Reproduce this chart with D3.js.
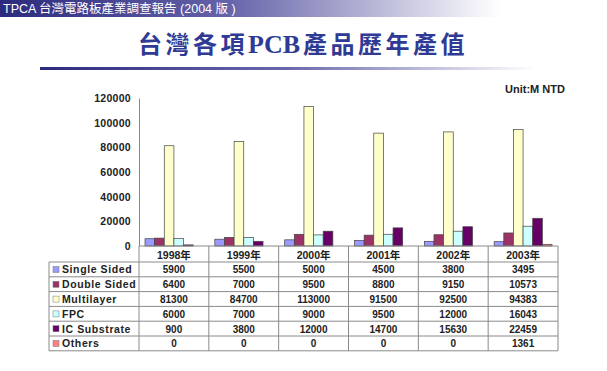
<!DOCTYPE html>
<html>
<head>
<meta charset="utf-8">
<script src="https://cdn.jsdelivr.net/npm/d3@7"></script>
<style>
  body { margin: 0; background: #fff; }
  svg { display: block; }
</style>
</head>
<body>
<svg id="chart" width="607" height="371"></svg>
<script>
var years = ["1998年", "1999年", "2000年", "2001年", "2002年", "2003年"];
var seriesNames = ["Single Sided", "Double Sided", "Multilayer", "FPC", "IC Substrate", "Others"];
var singleSided = [5900, 5500, 5000, 4500, 3800, 3495];
var doubleSided = [6400, 7000, 9500, 8800, 9150, 10573];
var multilayer = [81300, 84700, 113000, 91500, 92500, 94383];
var fpc = [6000, 7000, 9000, 9500, 12000, 16043];
var icSubstrate = [900, 3800, 12000, 14700, 15630, 22459];
var others = [0, 0, 0, 0, 0, 1361];
var yTicks = [0, 20000, 40000, 60000, 80000, 100000, 120000];

var seriesValues = [singleSided, doubleSided, multilayer, fpc, icSubstrate, others];
var colors = ["#9999ff", "#993366", "#ffffcc", "#ccffff", "#660066", "#ff8080"];

function init() {
    var svg = d3.select("#chart");
    var defs = svg.append("defs");

    var g1 = defs.append("linearGradient").attr("id", "hdr").attr("x1", "0").attr("x2", "1");
    g1.append("stop").attr("offset", "0").attr("stop-color", "#2c2a7c");
    g1.append("stop").attr("offset", "0.45").attr("stop-color", "#6462a8");
    g1.append("stop").attr("offset", "1").attr("stop-color", "#ffffff");

    var g2 = defs.append("linearGradient").attr("id", "uline").attr("x1", "0").attr("x2", "1");
    g2.append("stop").attr("offset", "0").attr("stop-color", "#2c2a7c");
    g2.append("stop").attr("offset", "0.5").attr("stop-color", "#6a68ac");
    g2.append("stop").attr("offset", "1").attr("stop-color", "#ffffff");

    // header band
    svg.append("rect").attr("x", 0).attr("y", 0).attr("width", 500).attr("height", 17).attr("fill", "url(#hdr)");
    svg.append("text")
        .attr("x", 3).attr("y", 13)
        .attr("fill", "#ffffff")
        .style("font-family", "'Liberation Sans', 'Noto Sans CJK TC', sans-serif")
        .style("font-size", "12.5px")
        .text("TPCA 台灣電路板產業調查報告 (2004 版 )");

    // title, CJK spaced out, PCB tight
    var title = svg.append("text")
        .attr("x", 303).attr("y", 53)
        .attr("text-anchor", "middle")
        .attr("fill", "#2f3a94")
        .style("font-family", "'Liberation Serif', 'Noto Sans CJK TC', serif")
        .style("font-weight", "bold")
        .style("font-size", "24px");
    title.append("tspan").style("letter-spacing", "3.5px").text("台灣各項");
    title.append("tspan").style("font-size", "26px").style("letter-spacing", "0px").text("PCB");
    title.append("tspan").attr("dx", 3).style("letter-spacing", "3.5px").text("產品歷年產值");

    svg.append("rect").attr("x", 40).attr("y", 67).attr("width", 495).attr("height", 3).attr("fill", "url(#uline)");

    // chart area
    var left = 139, right = 558, topY = 98, base = 246;

    var x0 = d3.scaleBand().domain(years).range([left, right]).padding(0);
    var x1 = d3.scaleBand().domain(seriesNames).range([6, x0.bandwidth() - 6]).padding(0);
    var y = d3.scaleLinear().domain([0, 120000]).range([base, topY]);

    svg.append("text")
        .attr("x", 505).attr("y", 93)
        .style("font-family", "'Liberation Sans', Arial, sans-serif")
        .style("font-weight", "bold")
        .style("font-size", "11px")
        .attr("fill", "#222")
        .text("Unit:M NTD");

    var yAxis = svg.append("g")
        .attr("transform", "translate(" + left + ",0)")
        .call(d3.axisLeft(y).tickValues(yTicks).tickSize(0).tickPadding(8).tickFormat(d3.format("d")));
    yAxis.select(".domain").attr("stroke", "#888");
    yAxis.selectAll("text")
        .style("font-family", "'Liberation Sans', Arial, sans-serif")
        .style("font-weight", "bold")
        .style("font-size", "10.5px")
        .style("letter-spacing", "0.3px")
        .attr("fill", "#222");

    var groups = svg.selectAll(".yr")
        .data(years)
        .enter().append("g")
        .attr("class", "yr")
        .attr("transform", function(d) { return "translate(" + x0(d) + ",0)"; });

    groups.selectAll("rect")
        .data(function(d, i) {
            return seriesNames.map(function(s, j) { return {name: s, value: seriesValues[j][i], c: colors[j]}; });
        })
        .enter().append("rect")
        .attr("x", function(d) { return x1(d.name); })
        .attr("width", x1.bandwidth())
        .attr("y", function(d) { return y(d.value); })
        .attr("height", function(d) { return base - y(d.value); })
        .attr("fill", function(d) { return d.c; })
        .attr("stroke", function(d) { return d.value > 0 ? "#444" : "none"; })
        .attr("stroke-width", 0.7);

    // data table
    var legLeft = 49, headH = 16, rowH = 14.8;
    var tableBottom = base + headH + rowH * seriesNames.length;
    var lineColor = "#8a8a8a";
    var tbl = svg.append("g");

    tbl.append("line").attr("x1", left).attr("x2", right).attr("y1", base).attr("y2", base).attr("stroke", lineColor);
    seriesNames.forEach(function(s, j) {
        var yy = base + headH + rowH * j;
        tbl.append("line").attr("x1", legLeft).attr("x2", right).attr("y1", yy).attr("y2", yy).attr("stroke", lineColor);
    });
    tbl.append("line").attr("x1", legLeft).attr("x2", right).attr("y1", tableBottom).attr("y2", tableBottom).attr("stroke", lineColor);
    tbl.append("line").attr("x1", legLeft).attr("x2", legLeft).attr("y1", base + headH).attr("y2", tableBottom).attr("stroke", lineColor);
    years.forEach(function(yr) {
        tbl.append("line").attr("x1", x0(yr)).attr("x2", x0(yr)).attr("y1", base).attr("y2", tableBottom).attr("stroke", lineColor);
    });
    tbl.append("line").attr("x1", right).attr("x2", right).attr("y1", base).attr("y2", tableBottom).attr("stroke", lineColor);

    var txtStyle = function(sel, size) {
        sel.style("font-family", "'Liberation Sans', Arial, 'Noto Sans CJK TC', sans-serif")
           .style("font-weight", "bold")
           .style("font-size", size)
           .attr("fill", "#222");
    };

    years.forEach(function(yr) {
        tbl.append("text")
            .attr("x", x0(yr) + x0.bandwidth() / 2)
            .attr("y", base + headH - 3.5)
            .attr("text-anchor", "middle")
            .call(txtStyle, "10.5px")
            .text(yr);
    });

    seriesNames.forEach(function(s, j) {
        var yy = base + headH + rowH * j;
        tbl.append("rect")
            .attr("x", legLeft + 4).attr("y", yy + 4.5)
            .attr("width", 6).attr("height", 6)
            .attr("fill", colors[j]).attr("stroke", "#777").attr("stroke-width", 0.5);
        tbl.append("text")
            .attr("x", legLeft + 13).attr("y", yy + rowH - 3.5)
            .call(txtStyle, "10.5px")
            .style("letter-spacing", "0.6px")
            .text(s);
        years.forEach(function(yr, i) {
            tbl.append("text")
                .attr("x", x0(yr) + x0.bandwidth() / 2)
                .attr("y", yy + rowH - 3.5)
                .attr("text-anchor", "middle")
                .call(txtStyle, "10px")
                .text(seriesValues[j][i]);
        });
    });
}

window.onload = init;
</script>
</body>
</html>
